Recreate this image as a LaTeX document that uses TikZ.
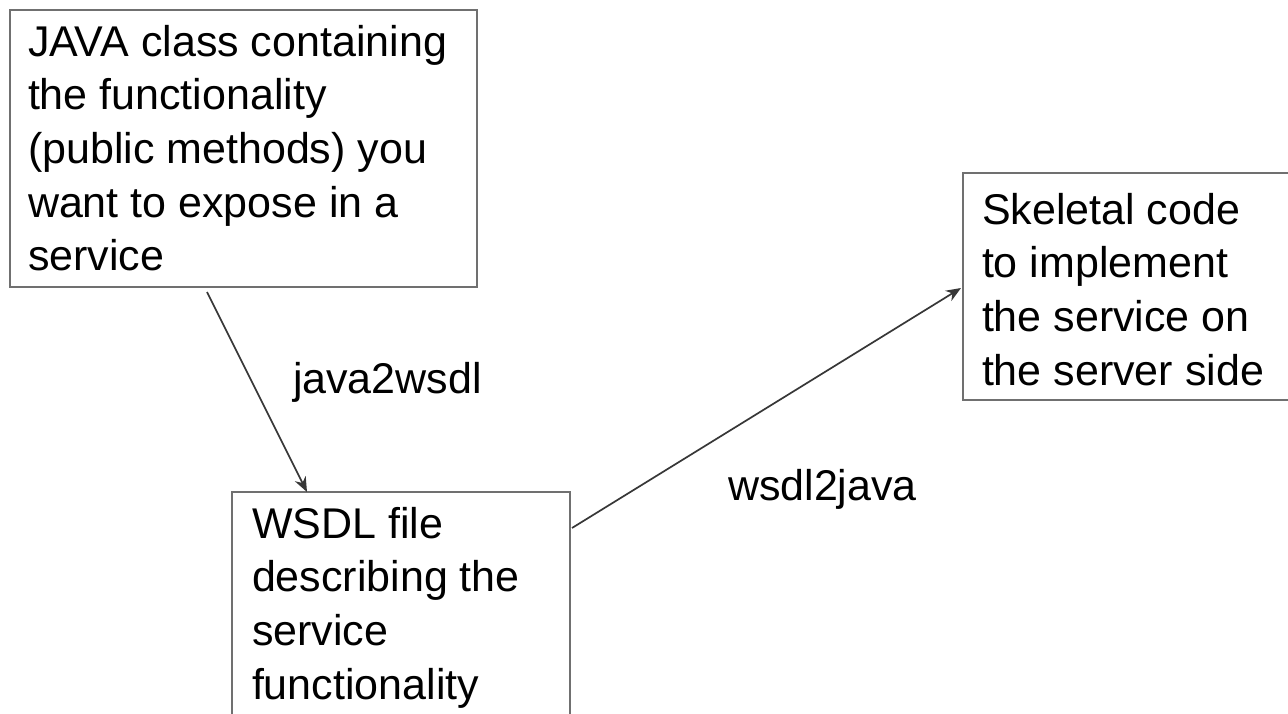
\documentclass[tikz,border=0pt]{standalone}
\usepackage{fontspec}
\setmainfont{Liberation Sans}
\usetikzlibrary{arrows.meta,calc}
\definecolor{boxgray}{RGB}{112,112,112}
\definecolor{arrowgray}{RGB}{55,55,55}
\tikzset{
  boxshape/.style={draw=boxgray,line width=2.6pt,fill=none,inner sep=0pt,outer sep=0pt,anchor=north west},
  boxtext/.style={inner sep=0pt,outer sep=0pt,anchor=north west,align=left,text=black,
    font=\fontsize{43}{53.7}\selectfont},
  lbl/.style={inner sep=0pt,outer sep=0pt,anchor=base west,text=black,
    font=\fontsize{43}{53.7}\selectfont},
  conn/.style={draw=arrowgray,line width=1.7pt,-{Stealth[length=15pt,width=12pt]}}
}
\begin{document}
\begin{tikzpicture}[x=1pt,y=-1pt]
\useasboundingbox[fill=white] (0,0) rectangle (1288,713);
% boxes
\node[boxshape,minimum width=467pt,minimum height=277pt] (java) at (10,10) {};
\node[boxshape,minimum width=338pt,minimum height=270pt] (wsdl) at (232,492) {};
\node[boxshape,minimum width=340pt,minimum height=227pt] (skel) at (963,173) {};
% texts
\node[boxtext] (javatext) at (28,25) {JAVA class containing\\the functionality\\(public methods) you\\want to expose in a\\service};
\node[boxtext] (wsdltext) at (252,507) {WSDL file\\describing the\\service\\functionality};
\node[boxtext] (skeltext) at (982,193) {Skeletal code\\to implement\\the service on\\the server side};
% connector end points on the box borders
\coordinate (a1s) at ($(java.south west)+(197,5)$);
\coordinate (a1e) at ($(wsdl.north west)+(75,0)$);
\coordinate (a2s) at ($(wsdl.north east)+(2,36)$);
\coordinate (a2e) at ($(skel.north west)+(-2,115)$);
\draw[conn] (a1s) -- (a1e);
\draw[conn] (a2s) -- (a2e);
% labels
\node[lbl] (l1) at (293,393) {java2wsdl};
\node[lbl] (l2) at (728,500) {wsdl2java};
\end{tikzpicture}
\end{document}
